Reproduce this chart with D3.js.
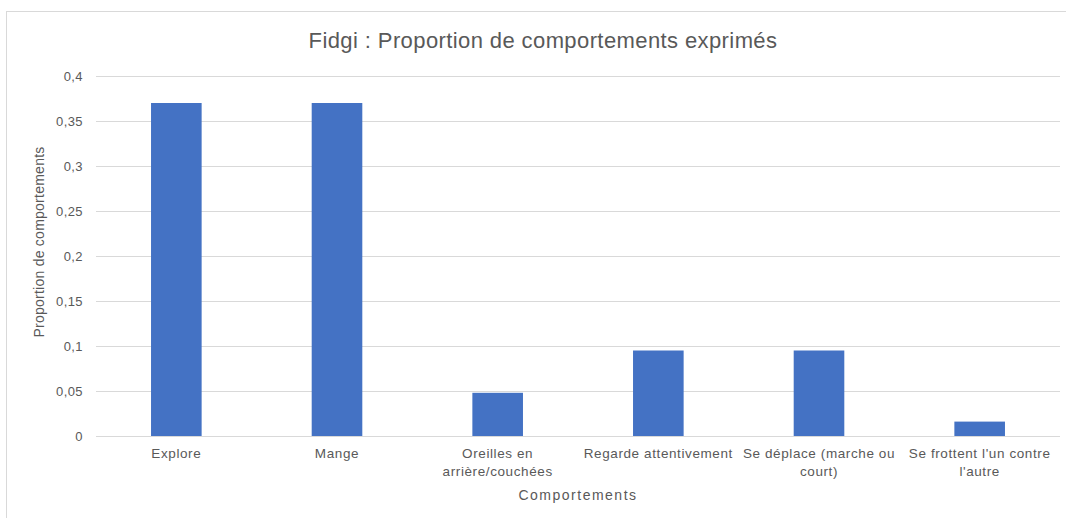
<!DOCTYPE html>
<html>
<head>
<meta charset="utf-8">
<script src="https://cdn.jsdelivr.net/npm/d3@7"></script>
<style>
  body { margin: 0; background: #fff; }
  text { font-family: "Liberation Sans", Arial, sans-serif; fill: #595959; }
</style>
</head>
<body>
<svg id="chart" width="1066" height="518"></svg>
<script>
var categories = [
  "Explore",
  "Mange",
  "Oreilles en arrière/couchées",
  "Regarde attentivement",
  "Se déplace (marche ou court)",
  "Se frottent l'un contre l'autre"
];
// label lines as they wrap in the picture
var labelLines = [
  ["Explore"],
  ["Mange"],
  ["Oreilles en", "arrière/couchées"],
  ["Regarde attentivement"],
  ["Se déplace (marche ou", "court)"],
  ["Se frottent l'un contre", "l'autre"]
];
var values = [0.37, 0.37, 0.048, 0.095, 0.095, 0.016];
var yTicks = [0, 0.05, 0.1, 0.15, 0.2, 0.25, 0.3, 0.35, 0.4];

var svg = d3.select("#chart"),
    width = +svg.attr("width"),
    height = +svg.attr("height");

var margin = {top: 76, right: 6, bottom: 82, left: 96};

// chart border
svg.append("rect")
    .attr("x", 6.5).attr("y", 11.5)
    .attr("width", width + 10).attr("height", height + 10)
    .attr("fill", "none").attr("stroke", "#d9d9d9");

var x = d3.scaleBand()
    .domain(categories)
    .range([margin.left, width - margin.right])
    .paddingInner(0.685)
    .paddingOuter(0.685 / 2);

var y = d3.scaleLinear()
    .domain([0, 0.4])
    .range([height - margin.bottom, margin.top]);

var fmt = function(d) { return String(d).replace(".", ","); };

// gridlines
svg.append("g")
  .selectAll("line")
  .data(yTicks)
  .enter().append("line")
    .attr("x1", margin.left)
    .attr("x2", width - margin.right)
    .attr("y1", function(d) { return Math.round(y(d)) + 0.5; })
    .attr("y2", function(d) { return Math.round(y(d)) + 0.5; })
    .attr("stroke", "#d9d9d9")
    .attr("stroke-width", 1);

// y axis labels
var yAxis = svg.append("g")
    .attr("transform", "translate(" + margin.left + ",0)")
    .call(d3.axisLeft(y).tickValues(yTicks).tickFormat(fmt).tickSize(0).tickPadding(13));
yAxis.select(".domain").remove();
yAxis.selectAll("text")
    .attr("font-size", 13)
    .attr("font-family", null)
    .attr("letter-spacing", 0.4)
    .style("fill", "#595959");

// bars
svg.append("g")
  .selectAll("rect")
  .data(values)
  .enter().append("rect")
    .attr("x", function(d, i) { return x(categories[i]); })
    .attr("width", x.bandwidth())
    .attr("y", function(d) { return y(d); })
    .attr("height", function(d) { return y(0) - y(d); })
    .attr("fill", "#4472c4");

// x labels
var xl = svg.append("g")
  .selectAll("text")
  .data(categories)
  .enter().append("text")
    .attr("text-anchor", "middle")
    .attr("font-size", 13.5)
    .attr("letter-spacing", 0.6)
    .attr("x", function(d) { return x(d) + x.bandwidth() / 2; })
    .attr("y", y(0) + 22);
xl.selectAll("tspan")
  .data(function(d, i) { return labelLines[i]; })
  .enter().append("tspan")
    .attr("x", function() { var p = this.parentNode; return p.getAttribute("x"); })
    .attr("dy", function(d, i) { return i ? 18 : 0; })
    .text(function(d) { return d; });

// title
svg.append("text")
    .attr("x", 543)
    .attr("y", 48)
    .attr("text-anchor", "middle")
    .attr("font-size", 22)
    .attr("letter-spacing", 0.4)
    .text("Fidgi : Proportion de comportements exprimés");

// axis titles
svg.append("text")
    .attr("x", (margin.left + width - margin.right) / 2)
    .attr("y", 500)
    .attr("text-anchor", "middle")
    .attr("font-size", 14)
    .attr("letter-spacing", 1.5)
    .text("Comportements");

svg.append("text")
    .attr("transform", "translate(44," + 242 + ") rotate(-90)")
    .attr("text-anchor", "middle")
    .attr("font-size", 14)
    .attr("letter-spacing", 0.25)
    .text("Proportion de comportements");
</script>
</body>
</html>
